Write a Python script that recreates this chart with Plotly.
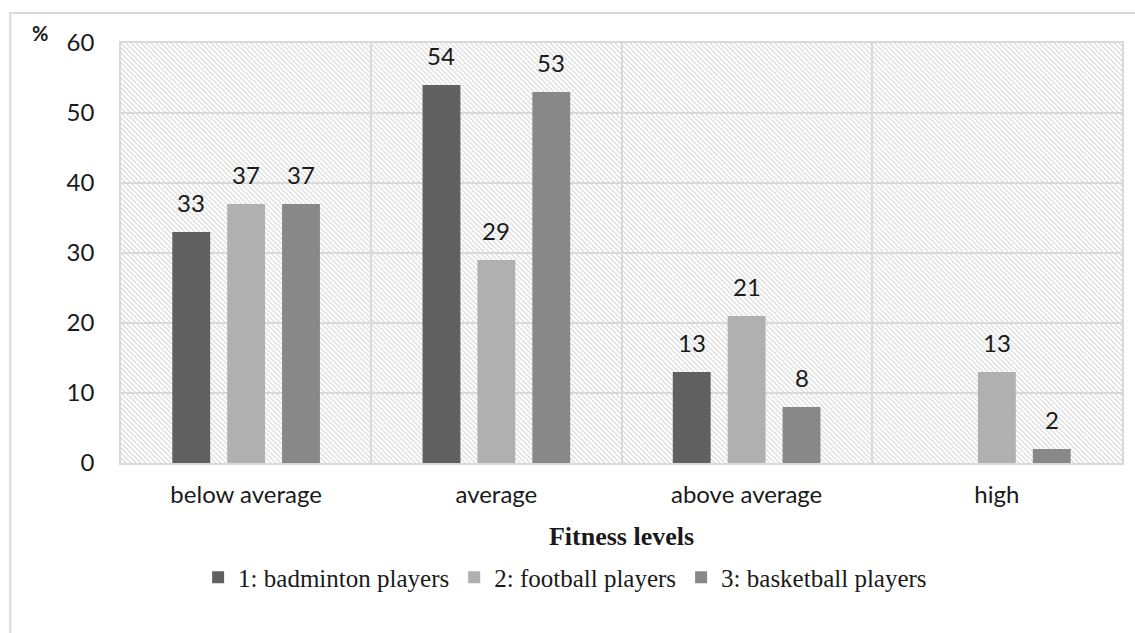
import base64
import plotly.graph_objects as go

# Fitness level categories and the share (%) of each group of players
levels = ["below average", "average", "above average", "high"]
badminton = [33, 54, 13, 0]
football = [37, 29, 21, 13]
basketball = [37, 53, 8, 2]

series = [
    ("1: badminton players", badminton, "#606060"),
    ("2: football players", football, "#b0b0b0"),
    ("3: basketball players", basketball, "#888888"),
]

W, H = 1135, 633
ML, MR, MT, MB = 121, 11, 43, 170
PW, PH = W - ML - MR, H - MT - MB
SLOT = 55  # pixel distance between neighbouring bars of a group

fig = go.Figure()
for i, (name, vals, col) in enumerate(series):
    fig.add_trace(go.Bar(
        x=levels, y=vals, name=name, marker_color=col,
        marker_line_width=0, hoverinfo="x+y+name",
    ))
    # value labels above each bar (no label for an empty bar)
    for lvl, v in zip(levels, vals):
        if v:
            fig.add_annotation(
                x=lvl, y=v, text=str(v), showarrow=False,
                xshift=(i - 1) * SLOT, yshift=13, yanchor="bottom",
                font=dict(family="Lato", size=24, color="#1a1a1a"),
            )

# diagonal hatch behind the plot area
svg = (
    f'<svg xmlns="http://www.w3.org/2000/svg" width="{PW}" height="{PH}">'
    '<defs><pattern id="h" patternUnits="userSpaceOnUse" width="5" height="5">'
    '<path d="M-1,-1 L6,6 M-1,4 L1,6 M4,-1 L6,1" stroke="#d6d6d6" stroke-width="1.2"/>'
    '</pattern></defs>'
    f'<rect width="{PW}" height="{PH}" fill="url(#h)"/></svg>'
)
uri = "data:image/svg+xml;base64," + base64.b64encode(svg.encode()).decode()
fig.add_layout_image(dict(
    source=uri, xref="paper", yref="paper", x=0, y=1, sizex=1, sizey=1,
    xanchor="left", yanchor="top", sizing="stretch", layer="below",
))

# outer chart frame
fig.add_shape(type="rect", xref="paper", yref="paper",
              x0=(10 - ML) / PW, x1=(W + 10 - ML) / PW,
              y0=-(H + 10 - MT - PH) / PH, y1=(MT + PH - 13) / PH,
              line=dict(color="#d9d9d9", width=2), layer="below")

fig.add_annotation(text="<b>%</b>", xref="paper", yref="paper",
                   x=(40 - ML) / PW, y=(MT + PH - 33) / PH,
                   showarrow=False, xanchor="center", yanchor="middle",
                   font=dict(family="Lato", size=20, color="#1a1a1a"))

fig.update_layout(
    width=W, height=H,
    margin=dict(l=ML, r=MR, t=MT, b=MB),
    paper_bgcolor="white", plot_bgcolor="rgba(0,0,0,0)",
    barmode="group", bargap=0.342, bargroupgap=0.31,
    showlegend=True,
    legend=dict(orientation="h", x=(566 - ML) / PW, xanchor="center",
                y=-0.218, yanchor="top",
                font=dict(family="Liberation Serif", size=25, color="#1a1a1a"),
                itemwidth=30, traceorder="normal"),
    xaxis=dict(
        type="category", tickson="boundaries", showgrid=True,
        gridcolor="#d9d9d9", gridwidth=1.5, ticks="", ticklabelstandoff=9,
        showline=True, linecolor="#d9d9d9", linewidth=1.5, mirror=True,
        tickfont=dict(family="Lato", size=24, color="#1a1a1a"),
        title=dict(text="<b>Fitness levels</b>", standoff=20,
                   font=dict(family="Liberation Serif", size=26, color="#1a1a1a")),
    ),
    yaxis=dict(
        range=[0, 60], dtick=10, showgrid=True, gridcolor="#d9d9d9", gridwidth=1.5,
        showline=True, linecolor="#d9d9d9", linewidth=1.5, mirror=True,
        zeroline=False, ticks="", ticklabelstandoff=20,
        tickfont=dict(family="Lato", size=24, color="#1a1a1a"),
    ),
)

fig.write_html("out.html")
